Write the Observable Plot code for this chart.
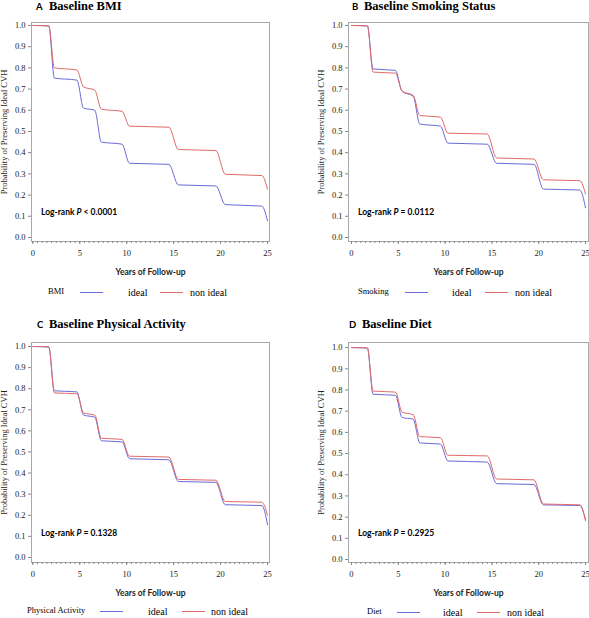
<!DOCTYPE html>
<html><head><meta charset="utf-8">
<script src="https://cdn.jsdelivr.net/npm/d3@7"></script>
<script src="https://cdn.jsdelivr.net/npm/@observablehq/plot@0.6"></script>
<style>
body{margin:0;background:#fff;}
#root{position:relative;width:589px;height:618px;overflow:hidden;}
.abs{position:absolute;white-space:nowrap;line-height:1.1;transform:translateY(-50%);}
.panel{position:absolute;}
.ser{font-family:"Liberation Serif",serif;}
.sans{font-family:"Lato",sans-serif;}
</style></head><body><div id="root"></div>
<script>
// Knot times (years) where plateaus start/end
const time = [0, 1.7, 2.3, 4.7, 5.4, 6.6, 7.3, 9.5, 10.3, 14.5, 15.5, 19.5, 20.5, 24.4, 25];
const groups = ["ideal", "non ideal"];
const xTicks = [0, 5, 10, 15, 20, 25];
const yTicks = [0, 0.1, 0.2, 0.3, 0.4, 0.5, 0.6, 0.7, 0.8, 0.9, 1.0];

const bmiIdeal = [1.0, 0.998, 0.752, 0.742, 0.61, 0.60, 0.45, 0.44, 0.35, 0.345, 0.248, 0.243, 0.155, 0.148, 0.078];
const bmiNon   = [1.0, 0.998, 0.80, 0.79, 0.71, 0.695, 0.605, 0.595, 0.525, 0.52, 0.415, 0.41, 0.298, 0.292, 0.228];
const smkIdeal = [1.0, 0.998, 0.795, 0.788, 0.69, 0.665, 0.535, 0.525, 0.445, 0.44, 0.35, 0.345, 0.228, 0.224, 0.14];
const smkNon   = [1.0, 0.998, 0.78, 0.775, 0.69, 0.67, 0.575, 0.568, 0.492, 0.488, 0.375, 0.37, 0.272, 0.268, 0.205];
const paIdeal  = [1.0, 0.998, 0.79, 0.785, 0.675, 0.665, 0.553, 0.548, 0.468, 0.463, 0.36, 0.356, 0.25, 0.246, 0.155];
const paNon    = [1.0, 0.998, 0.78, 0.776, 0.685, 0.675, 0.565, 0.56, 0.48, 0.476, 0.37, 0.366, 0.265, 0.262, 0.2];
const dietIdeal= [1.0, 0.998, 0.78, 0.775, 0.67, 0.662, 0.55, 0.545, 0.465, 0.46, 0.358, 0.354, 0.258, 0.255, 0.19];
const dietNon  = [1.0, 0.998, 0.795, 0.79, 0.695, 0.683, 0.58, 0.575, 0.492, 0.489, 0.38, 0.376, 0.262, 0.258, 0.183];

const letters = ["A", "B", "C", "D"];
const titles = ["Baseline BMI", "Baseline Smoking Status", "Baseline Physical Activity", "Baseline Diet"];
const legendNames = ["BMI", "Smoking", "Physical Activity", "Diet"];
const pTexts = ["< 0.0001", "= 0.0112", "= 0.1328", "= 0.2925"];
const series = [[bmiIdeal, bmiNon], [smkIdeal, smkNon], [paIdeal, paNon], [dietIdeal, dietNon]];

const BLUE = "#6a6ad8", RED = "#e06a6a";

// layout
const layout = [
  {left:0,   top:0,   w:290, h:300, ml:31, mr:21, mt:22, mb:59, xd:[-0.14,25.21], yd:[-0.019,1.014], tx:36, tt:49, ty:7,   lx:[48,80,128,160,190], ly:292},
  {left:295, top:0,   w:294, h:300, ml:53, mr:1,  mt:22, mb:59, xd:[-0.32,25.32], yd:[-0.019,1.014], tx:352,tt:364,ty:7,   lx:[358,405,452,485,515], ly:292},
  {left:0,   top:305, w:290, h:313, ml:31, mr:21, mt:37, mb:56, xd:[-0.14,25.21], yd:[-0.024,1.019], tx:37, tt:49, ty:325, lx:[27,100,148,182,211], ly:611},
  {left:295, top:305, w:294, h:313, ml:53, mr:1,  mt:37, mb:56, xd:[-0.32,25.32], yd:[-0.014,1.024], tx:349,tt:362,ty:325, lx:[367,397,443,477,507], ly:612}
];

const root = document.getElementById("root");
function addText(html, x, y, cls, style) {
  const d = document.createElement("div");
  d.className = "abs " + cls;
  d.style.left = x + "px"; d.style.top = y + "px";
  d.style.cssText += style || "";
  d.innerHTML = html;
  root.appendChild(d);
  return d;
}
function addLine(x, y, color) {
  const d = document.createElement("div");
  d.style.cssText = `position:absolute;left:${x}px;top:${y}px;width:23px;height:1px;background:${color};`;
  root.appendChild(d);
}

layout.forEach((L, i) => {
  const data = [];
  groups.forEach((g, gi) => time.forEach((t, k) => data.push({t, s: series[i][gi][k], g})));
  const plot = Plot.plot({
    width: L.w, height: L.h,
    marginLeft: L.ml, marginRight: L.mr, marginTop: L.mt, marginBottom: L.mb,
    style: {fontFamily: "Liberation Serif, serif", fontSize: "8.5px", color: "#222", background: "transparent"},
    x: {domain: L.xd, label: null},
    y: {domain: L.yd, label: null},
    color: {domain: groups, range: [BLUE, RED]},
    marks: [
      Plot.frame({stroke: "#a8a8a8"}),
      Plot.axisX({ticks: d3.range(0, 25.01, 0.5), tickSize: 2, text: null, label: null, stroke: "#888"}),
      Plot.axisX({ticks: xTicks, tickSize: 3, tickPadding: 5, tickFormat: d3.format("d"), label: null, stroke: "#888"}),
      Plot.axisY({ticks: yTicks, tickSize: 3, tickPadding: 3, tickFormat: d3.format(".1f"), label: null, stroke: "#888"}),
      Plot.text(["Probability of Preserving Ideal CVH"], {frameAnchor: "left", dx: -27, rotate: -90, textAnchor: "middle", lineAnchor: "middle", fontSize: 8.5}),
      Plot.text(["Years of Follow-up"], {frameAnchor: "bottom", dy: 31, textAnchor: "middle", lineAnchor: "middle", fontFamily: "Lato, sans-serif", fontWeight: "bold", fontSize: 8.5}),
      Plot.line(data, {x: "t", y: "s", stroke: "g", strokeWidth: 1, curve: "monotone-x"})
    ]
  });
  const wrap = document.createElement("div");
  wrap.className = "panel";
  wrap.style.left = L.left + "px"; wrap.style.top = L.top + "px";
  wrap.appendChild(plot);
  root.appendChild(wrap);

  // title
  addText(letters[i], L.tx, L.ty, "sans", "font-weight:bold;font-size:9.5px;");
  addText(titles[i], L.tt, L.ty, "ser", "font-weight:bold;font-size:12.5px;");
  // log-rank annotation
  const fb = L.top + L.h - L.mb;
  addText(`Log-rank <i>P</i> ${pTexts[i]}`, L.left + L.ml + 10, fb - 28, "sans", "font-weight:bold;font-size:8.5px;");
  // legend
  addText(legendNames[i], L.lx[0], L.ly, "ser", "font-size:8.5px;");
  addLine(L.lx[1], L.ly, BLUE);
  addText(groups[0], L.lx[2], L.ly, "ser", "font-size:10px;");
  addLine(L.lx[3], L.ly, RED);
  addText(groups[1], L.lx[4], L.ly, "ser", "font-size:10px;");
});
</script></body></html>
